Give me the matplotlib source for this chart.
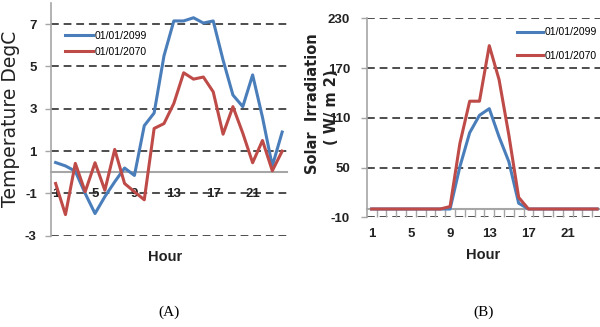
import matplotlib
matplotlib.use("Agg")
import matplotlib.pyplot as plt

plt.rcParams['axes.unicode_minus'] = False

hours = list(range(1, 25))
temp_2099 = [0.46, 0.3, 0.05, -1.0, -1.95, -1.15, -0.45, 0.2, -0.15, 2.2, 2.8, 5.5,
             7.15, 7.15, 7.3, 7.05, 7.15, 5.3, 3.65, 3.1, 4.6, 2.6, 0.3, 1.9]
temp_2070 = [-0.53, -2.0, 0.42, -0.92, 0.45, -0.85, 1.08, -0.53, -0.92, -1.3, 2.07, 2.3,
             3.25, 4.7, 4.4, 4.5, 3.8, 1.8, 3.1, 1.85, 0.45, 1.5, 0.07, 1.0]
solar_2099 = [0, 0, 0, 0, 0, 0, 0, 0, 0, 51, 92, 113, 121, 87, 57, 7, 0, 0, 0, 0, 0, 0, 0, 0]
solar_2070 = [0, 0, 0, 0, 0, 0, 0, 0, 3, 79, 130, 130, 197, 156, 89, 14, 0, 0, 0, 0, 0, 0, 0, 0]
labels = ['01/01/2099', '01/01/2070']
xtick_vals = [1, 5, 9, 13, 17, 21]
temp_yticks = [-3, -1, 1, 3, 5, 7]
solar_yticks = [-10, 50, 110, 170, 230]

BLUE = '#4a7ebb'
RED = '#be4b48'
GRID = '#4d4d4d'
AXC = '#a6a6a6'
SANS = 'Liberation Sans'
TXT = '#222222'

fig = plt.figure(figsize=(6.0, 3.27), dpi=100)

def style(ax, yticks):
    for s in ['top', 'right']:
        ax.spines[s].set_visible(False)
    ax.spines['left'].set_color(AXC)
    ax.spines['left'].set_linewidth(1.2)
    ax.spines['bottom'].set_color(AXC)
    ax.spines['bottom'].set_linewidth(1.5)
    ax.spines['bottom'].set_position(('data', 0))
    ax.set_yticks(yticks)
    for v in yticks:
        ax.axhline(v, color=GRID, lw=1.4, ls=(0, (4, 2.5)), zorder=1)
    ax.tick_params(axis='y', length=4, color=AXC, width=1)
    ax.set_xticks(xtick_vals)
    for lab in ax.get_yticklabels() + ax.get_xticklabels():
        lab.set_fontfamily(SANS)
        lab.set_fontweight('bold')
        lab.set_fontsize(9.5)
        lab.set_color(TXT)
    ax.set_xlabel('Hour', fontsize=10.5, fontweight='bold', family=SANS, color=TXT)

# ---- (A) temperature
ax1 = fig.add_axes([0.0845, 0.279, 0.394, 0.712])
ax1.plot(hours, temp_2099, color=BLUE, lw=2.2, label=labels[0], zorder=3)
ax1.plot(hours, temp_2070, color=RED, lw=2.2, label=labels[1], zorder=3)
ax1.set_xlim(0.5, 24.5)
ax1.set_ylim(-3, 8)
style(ax1, temp_yticks)
ax1.tick_params(axis='x', length=0, pad=11)
ax1.tick_params(axis='y', pad=6)
ax1.set_ylabel('Temperature DegC', fontsize=13.5, family='DejaVu Sans', color=TXT)
ax1.yaxis.set_label_coords(-0.13, 0.5)
ax1.xaxis.set_label_coords(0.485, -0.06)
ax1.legend(loc='upper left', bbox_to_anchor=(0.06, 0.88), frameon=False,
           borderpad=0, borderaxespad=0, handlelength=2.7, handletextpad=0.2,
           labelspacing=0.6, prop={'family': SANS, 'size': 7.5})

# ---- (B) solar
ax2 = fig.add_axes([0.6113, 0.3355, 0.3887, 0.6086])
ax2.plot(hours, solar_2099, color=BLUE, lw=2.2, label=labels[0], zorder=3)
ax2.plot(hours, solar_2070, color=RED, lw=2.2, label=labels[1], zorder=3)
ax2.set_xlim(0.5, 24.3)
ax2.set_ylim(-10, 230)
style(ax2, solar_yticks)
ax2.set_xticks([h + 0.5 for h in hours[:-1]], minor=True)
ax2.tick_params(axis='x', which='minor', length=6, color=AXC, width=1, direction='out')
ax2.tick_params(axis='x', which='major', length=0, pad=14)
ax2.tick_params(axis='y', pad=8)
ax2.xaxis.set_label_coords(0.498, -0.155)
ax2.legend(loc='upper left', bbox_to_anchor=(0.644, 0.955), frameon=False,
           borderpad=0, borderaxespad=0, handlelength=2.5, handletextpad=0.2,
           labelspacing=1.3, prop={'family': SANS, 'size': 7.5})

fig.text(313 / 600, 1 - 104 / 327, 'Solar  Irradiation', rotation=90, ha='center', va='center',
         fontsize=10.5, fontweight='bold', family='DejaVu Sans', color=TXT)
fig.text(332 / 600, 1 - 107 / 327, '( W/ m 2)', rotation=90, ha='center', va='center',
         fontsize=10.5, fontweight='bold', family='DejaVu Sans', color=TXT)

fig.text(169 / 600, 1 - 312 / 327, '(A)', ha='center', va='center', fontsize=11, family='Liberation Serif')
fig.text(484 / 600, 1 - 312 / 327, '(B)', ha='center', va='center', fontsize=11, family='Liberation Serif')

fig.savefig('out.png', dpi=100)
